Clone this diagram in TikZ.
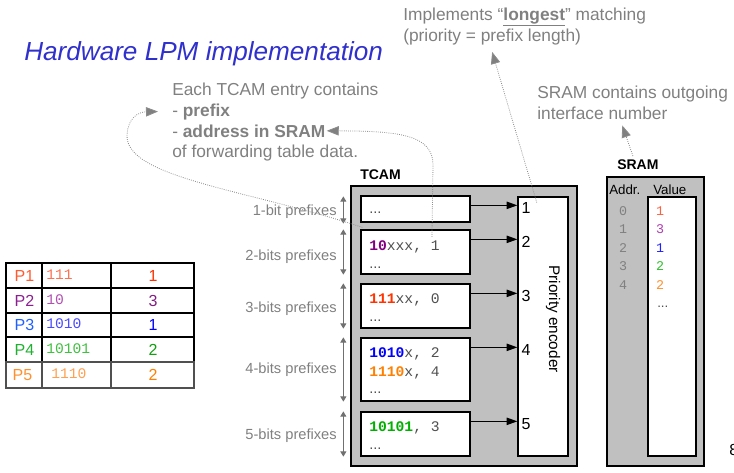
\documentclass[tikz,border=0pt]{standalone}
\usepackage{fontspec}
\setmainfont{Liberation Sans}
\setmonofont{Liberation Mono}
\usetikzlibrary{arrows.meta,fit,calc}
\definecolor{titleblue}{HTML}{3030CC}
\definecolor{annogray}{HTML}{808080}
\definecolor{dotgray}{HTML}{8C8C8C}
\definecolor{spangray}{HTML}{707070}
\definecolor{boxgray}{HTML}{C0C0C0}
\definecolor{codegray}{HTML}{505050}
\definecolor{cpurple}{HTML}{800080}
\definecolor{cred}{HTML}{FF3300}
\definecolor{cblue}{HTML}{0000FF}
\definecolor{corange}{HTML}{FF8000}
\definecolor{cgreen}{HTML}{00B000}
\definecolor{tpa}{HTML}{FF5A30}\definecolor{tva}{HTML}{FF7050}\definecolor{tna}{HTML}{FF3000}
\definecolor{tpb}{HTML}{8B2090}\definecolor{tvb}{HTML}{B050B0}\definecolor{tnb}{HTML}{802080}
\definecolor{tpc}{HTML}{2060FF}\definecolor{tvc}{HTML}{4A4AFF}\definecolor{tnc}{HTML}{0000FF}
\definecolor{tpd}{HTML}{20B030}\definecolor{tvd}{HTML}{40C040}\definecolor{tnd}{HTML}{10A010}
\definecolor{tpe}{HTML}{FF9030}\definecolor{tve}{HTML}{FFA050}\definecolor{tne}{HTML}{FF8000}
\definecolor{sva}{HTML}{FF6040}\definecolor{svb}{HTML}{B040B0}\definecolor{svc}{HTML}{2020FF}
\definecolor{svd}{HTML}{30C030}\definecolor{sve}{HTML}{FF9030}
\begin{document}
\begin{tikzpicture}[x=0.75pt,y=-0.75pt,
  txt/.style={inner sep=0pt, anchor=base west},
  anno/.style={txt, text=annogray, font=\fontsize{13}{15}\selectfont},
  plabel/.style={inner sep=0pt, anchor=base east, text=annogray, font=\fontsize{11}{13}\selectfont},
  graybox/.style={draw=black, fill=boxgray, line width=1pt, inner sep=0pt},
  whitebox/.style={draw=black, fill=white, line width=1pt, inner sep=0pt},
  code/.style={txt, font=\fontsize{11}{13}\selectfont\ttfamily, text=codegray},
  ell/.style={txt, font=\fontsize{11}{13}\selectfont, text=codegray},
  num/.style={anchor=west, inner sep=0pt, xshift=3pt, yshift=-2.2pt, font=\fontsize{12}{14}\selectfont},
  tarrow/.style={-{Triangle[length=8pt,width=5.5pt]}, line width=0.8pt},
  span/.style={{Triangle[length=4pt,width=4.5pt]}-{Triangle[length=4pt,width=4.5pt]}, draw=spangray, line width=0.8pt},
  dots/.style={draw=dotgray, densely dotted, line width=0.6pt, -{Triangle[length=9pt,width=7pt,fill=annogray]}},
  tcell/.style={inner sep=0pt, anchor=base, font=\fontsize{12}{14}\selectfont},
  tcode/.style={inner sep=0pt, anchor=base west, font=\fontsize{11}{13}\selectfont\ttfamily},
  sdig/.style={inner sep=0pt, anchor=base, font=\fontsize{10}{12}\selectfont\ttfamily},
  hdr/.style={txt, font=\fontsize{10}{12}\selectfont}
]
\useasboundingbox (0,0) rectangle (734,472);

% title
\node[txt, text=titleblue, font=\fontsize{19.6}{23}\selectfont\itshape] (title) at (24,60) {Hardware LPM implementation};

% annotations
\node[anno] (e1) at (172,95) {Each TCAM entry contains};
\node[anno] (e2) at (172,116) {- \textbf{prefix}};
\node[anno] (e3) at (172,137) {- \textbf{address in SRAM}};
\node[anno] (e4) at (172,157) {of forwarding table data.};
\node[anno] (i1) at (403,20) {Implements “\underline{\textbf{longest}}” matching};
\node[anno] (i2) at (403,41) {(priority = prefix length)};
\node[anno] (s1) at (537,98) {SRAM contains outgoing};
\node[anno] (s2) at (537,119) {interface number};

% TCAM
\node[txt, font=\bfseries\fontsize{10.5}{12}\selectfont] (tl) at (360,179) {TCAM};
\node[graybox, fit={(351,186)(577,466)}] (tcam) {};
\node[whitebox, fit={(518,197)(568,456)}] (enc) {};
\node[rotate=-90, inner sep=0pt, font=\fontsize{11.5}{13}\selectfont] (enclabel) at (553,319) {Priority encoder};

\node[whitebox, fit={(361,196)(470,222)}] (r1) {};
\node[whitebox, fit={(361,230)(470,274)}] (r2) {};
\node[whitebox, fit={(361,284)(470,328)}] (r3) {};
\node[whitebox, fit={(361,338)(470,401)}] (r4) {};
\node[whitebox, fit={(361,412)(470,456)}] (r5) {};

\node[ell] (t1) at (369,213) {...};
\node[code] (t2) at (369,250) {\textbf{\color{cpurple}10}xxx, 1};
\node[ell] (t2b) at (369,268) {...};
\node[code] (t3) at (369,303) {\textbf{\color{cred}111}xx, 0};
\node[ell] (t3b) at (369,321) {...};
\node[code] (t4) at (369,357) {\textbf{\color{cblue}1010}x, 2};
\node[code] (t4b) at (369,376) {\textbf{\color{corange}1110}x, 4};
\node[ell] (t4c) at (369,393) {...};
\node[code] (t5) at (369,431) {\textbf{\color{cgreen}10101}, 3};
\node[ell] (t5b) at (369,449) {...};

\path (r1.north east) ++(0,10) coordinate (a1);
\path (r2.north east) ++(0,10) coordinate (a2);
\path (r3.north east) ++(0,10) coordinate (a3);
\path (r4.north east) ++(0,10) coordinate (a4);
\path (r5.north east) ++(0,10) coordinate (a5);
\draw[tarrow] (a1) -- (a1 -| enc.west);
\draw[tarrow] (a2) -- (a2 -| enc.west);
\draw[tarrow] (a3) -- (a3 -| enc.west);
\draw[tarrow] (a4) -- (a4 -| enc.west);
\draw[tarrow] (a5) -- (a5 -| enc.west);
\node[num] (n1) at (a1 -| enc.west) {1};
\node[num] (n2) at (a2 -| enc.west) {2};
\node[num] (n3) at (a3 -| enc.west) {3};
\node[num] (n4) at (a4 -| enc.west) {4};
\node[num] (n5) at (a5 -| enc.west) {5};

% spans
\draw[span] ($(r1.north west)+(-17,1)$) -- ($(r1.south west)+(-17,1)$);
\draw[span] ($(r2.north west)+(-17,0)$) -- ($(r2.south west)+(-17,0)$);
\draw[span] ($(r3.north west)+(-17,0)$) -- ($(r3.south west)+(-17,0)$);
\draw[span] ($(r4.north west)+(-17,0)$) -- ($(r4.south west)+(-17,0)$);
\draw[span] ($(r5.north west)+(-17,0)$) -- ($(r5.south west)+(-17,0)$);
\node[plabel] (p1) at (337,215) {1-bit prefixes};
\node[plabel] (p2) at (337,260) {2-bits prefixes};
\node[plabel] (p3) at (337,312) {3-bits prefixes};
\node[plabel] (p4) at (337,373) {4-bits prefixes};
\node[plabel] (p5) at (337,439) {5-bits prefixes};

% SRAM
\node[txt, font=\bfseries\fontsize{10.5}{12}\selectfont] (sl) at (617,169) {SRAM};
\node[graybox, fit={(607,177)(704,466)}] (sram) {};
\node[whitebox, fit={(648,197)(696,456)}] (sramv) {};
\node[hdr] (ah) at (609,194) {Addr.};
\node[hdr] (vh) at (653,194) {Value};
\node[sdig, text=annogray] (d0) at (623,215) {0};
\node[sdig, text=annogray] (d1) at (623,233) {1};
\node[sdig, text=annogray] (d2) at (623,252) {2};
\node[sdig, text=annogray] (d3) at (623,270) {3};
\node[sdig, text=annogray] (d4) at (623,289) {4};
\node[sdig, text=sva] (v0) at (660,215) {1};
\node[sdig, text=svb] (v1) at (660,233) {3};
\node[sdig, text=svc] (v2) at (660,252) {1};
\node[sdig, text=svd] (v3) at (660,270) {2};
\node[sdig, text=sve] (v4) at (660,289) {2};
\node[ell, font=\fontsize{10}{12}\selectfont] (v5) at (657,307) {...};

% forwarding table
\draw[line width=0.9pt] (6,263) rectangle (194,362);
\draw[line width=0.9pt] (6,288) -- (194,288) (6,313) -- (194,313) (6,337) -- (194,337);
\draw[line width=0.9pt] (42,263) -- (42,362) (111,263) -- (111,362);
\draw[line width=0.9pt, draw=codegray] (6,362) rectangle (194,388) (42,362) -- (42,388) (111,362) -- (111,388);
\node[tcell, text=tpa] (pa) at (24.5,281) {P1};
\node[tcode, text=tva] (ca) at (46,279) {111};
\node[tcell, text=tna] (na) at (153,281) {1};
\node[tcell, text=tpb] (pb) at (24.5,306) {P2};
\node[tcode, text=tvb] (cb) at (46,304) {10};
\node[tcell, text=tnb] (nb) at (153,306) {3};
\node[tcell, text=tpc] (pc) at (24.5,330.5) {P3};
\node[tcode, text=tvc] (cc) at (46,328.5) {1010};
\node[tcell, text=tnc] (nc) at (153,330.5) {1};
\node[tcell, text=tpd] (pd) at (24.5,355) {P4};
\node[tcode, text=tvd] (cd) at (46,353) {10101};
\node[tcell, text=tnd] (nd) at (153,355) {2};
\node[tcell, text=tpe] (pe) at (22.5,380.5) {P5};
\node[tcode, text=tve] (ce) at (51,378.5) {1110};
\node[tcell, text=tne] (ne) at (153,380.5) {2};

% page number (cut off at the right edge, as in the reference)
\node[txt, font=\fontsize{12}{14}\selectfont] (page) at (729,455) {8};

% dotted connectors
\draw[dots] ($(r2.north west)+(2,-2)$) .. controls (250,190) and (125,178) .. (127,135) .. controls (128,118) and (138,112) .. ([xshift=-10.5pt]e2.west);
\draw[dots] ($(t2.north east)+(-8,-3)$) -- (433,165) .. controls (433,135) and (400,131) .. ([xshift=0.8pt]e3.east);
\draw[dots] ($(n1.north east)+(6,0)$) -- ($(i2.south)+(0,7)$);
\draw[dots] ($(sl.north)+(-5,-3)$) -- ($(s2.south)+(20,6)$);
\end{tikzpicture}
\end{document}
